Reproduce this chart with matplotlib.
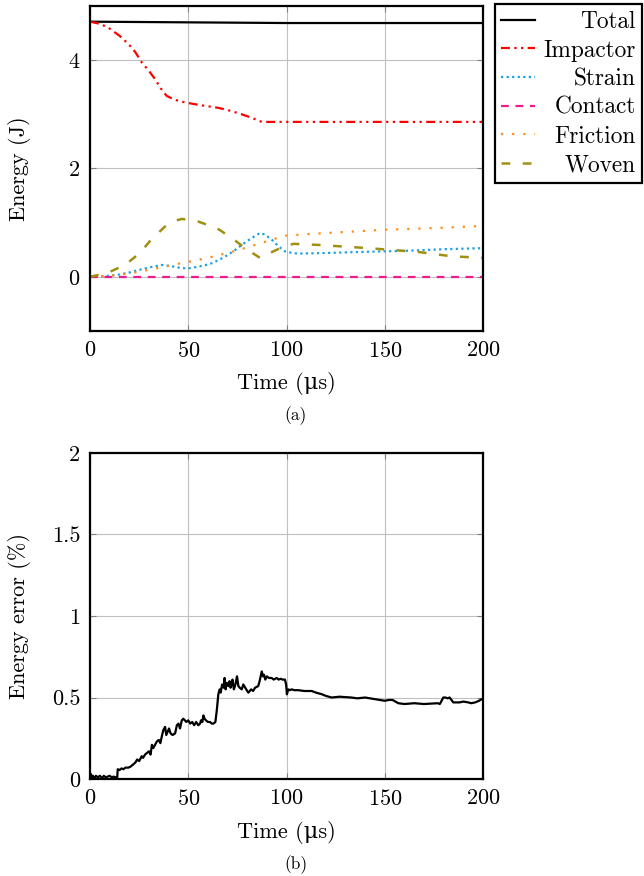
import matplotlib.pyplot as plt
import numpy as np

plt.rcParams['font.family'] = ['cmr10', 'DejaVu Serif']
plt.rcParams['mathtext.fontset'] = 'cm'
plt.rcParams['axes.formatter.use_mathtext'] = True
plt.rcParams['font.size'] = 16

# (a) energy components
t_total = [0, 20, 40, 60, 80, 100, 150, 200]
e_total = [4.71, 4.705, 4.70, 4.695, 4.69, 4.685, 4.685, 4.685]

t_imp = [0, 5, 9.3, 15, 19.5, 23, 26.3, 30, 33.1, 36, 39, 43, 48.3, 56, 65.3, 72, 77.2, 82, 87.4, 100, 150, 200]
e_imp = [4.71, 4.67, 4.60, 4.45, 4.30, 4.15, 3.96, 3.80, 3.65, 3.48, 3.34, 3.27, 3.22, 3.17, 3.12, 3.06, 3.00, 2.94, 2.86, 2.86, 2.86, 2.86]

t_strain = [0, 7, 14.4, 20, 26.3, 31, 36.5, 41, 46.7, 51, 55.1, 58, 61.9, 66, 70.4, 74, 77.2, 82, 86.5, 89, 92.4, 96, 99.2, 103, 106, 120, 138, 160, 180, 200]
e_strain = [0.0, 0.01, 0.04, 0.08, 0.14, 0.18, 0.22, 0.20, 0.16, 0.16, 0.19, 0.21, 0.25, 0.32, 0.41, 0.50, 0.59, 0.71, 0.81, 0.78, 0.69, 0.56, 0.47, 0.44, 0.43, 0.44, 0.46, 0.48, 0.51, 0.53]

t_fric = [0, 10, 21.2, 30, 38.2, 46, 53.4, 61, 68.7, 76, 84, 92, 99.2, 116, 150, 175, 200]
e_fric = [0.0, 0.02, 0.07, 0.13, 0.19, 0.25, 0.30, 0.36, 0.43, 0.50, 0.59, 0.68, 0.76, 0.80, 0.87, 0.90, 0.94]

t_contact = [0, 200]
e_contact = [0.0, 0.0]

t_woven = [0, 9.3, 17.8, 25.4, 31.4, 38.2, 42, 46.7, 55.1, 64.5, 72.1, 78.9, 86.5, 95, 103.5, 116, 141.6, 167, 184, 200]
e_woven = [0.0, 0.08, 0.22, 0.44, 0.70, 0.93, 1.02, 1.07, 1.02, 0.90, 0.72, 0.53, 0.35, 0.50, 0.61, 0.59, 0.53, 0.46, 0.38, 0.35]

# (b) energy error, hand-read with the visible jitter
t_err = [0, 0.5, 1, 1.5, 2, 3, 4, 5, 6, 7, 8, 9, 10, 11, 12, 13, 13.8, 14.1, 15, 16, 17, 18, 19.5, 20.5, 22, 23, 24, 25, 26.3,
         27, 28, 29, 30, 30.8, 31.5, 32.2, 33.1, 34, 35, 35.8, 36.5, 37.3, 38.2, 38.8, 39.5, 40.2, 41, 42, 43.3,
         44.2, 45, 45.8, 46.7, 47.5, 49, 50, 51, 52, 53, 54, 55.1, 56, 56.5, 57.2, 57.7, 58.3, 59, 60, 61, 62, 62.8,
         63.8, 64.5, 65.3, 66, 66.5, 67.2, 68, 68.5, 69, 69.6, 70.4, 71, 71.5, 72, 72.5, 73.2, 74, 74.8, 75.5, 76.2,
         77.2, 78, 79, 80, 80.6, 82, 83, 84, 85.6, 86.3, 87.4, 88, 88.5, 89.2, 90, 91, 92.4, 93.5, 95, 96, 97, 98,
         99.2, 99.8, 100.2, 100.9, 101.8, 102.6, 104, 106, 109, 112.8, 115, 118, 120, 123, 127, 133, 136, 140, 145,
         150, 152, 154, 156.9, 160, 165, 170, 177, 178, 178.5, 179.8, 181, 182, 183, 184.9, 188, 190, 192.5, 194,
         196, 198, 199.3, 200]
e_err = [0.0, 0.03, -0.01, 0.02, 0.0, 0.02, 0.01, 0.02, 0.005, 0.02, 0.01, 0.015, 0.02, 0.01, 0.015, 0.01, 0.005, 0.06, 0.055, 0.065, 0.06, 0.07, 0.07, 0.075, 0.09, 0.1, 0.12, 0.11, 0.14,
         0.13, 0.15, 0.16, 0.17, 0.15, 0.21, 0.19, 0.21, 0.23, 0.24, 0.22, 0.26, 0.30, 0.32, 0.27, 0.29, 0.31, 0.28, 0.27, 0.28,
         0.33, 0.34, 0.31, 0.36, 0.37, 0.35, 0.36, 0.34, 0.35, 0.33, 0.35, 0.33, 0.34, 0.36, 0.35, 0.39, 0.37, 0.36, 0.35, 0.35, 0.34, 0.34,
         0.35, 0.42, 0.52, 0.55, 0.53, 0.58, 0.56, 0.62, 0.55, 0.59, 0.57, 0.60, 0.56, 0.58, 0.61, 0.55, 0.58, 0.63, 0.57, 0.56,
         0.55, 0.58, 0.56, 0.54, 0.53, 0.55, 0.54, 0.56, 0.57, 0.60, 0.66, 0.63, 0.64, 0.61, 0.63, 0.62, 0.62, 0.61, 0.62, 0.61, 0.615, 0.61,
         0.61, 0.58, 0.52, 0.55, 0.545, 0.55, 0.545, 0.545, 0.54, 0.54, 0.53, 0.52, 0.51, 0.50, 0.505, 0.50, 0.495, 0.50, 0.49,
         0.48, 0.485, 0.485, 0.465, 0.46, 0.465, 0.46, 0.465, 0.46, 0.47, 0.50, 0.50, 0.495, 0.50, 0.47, 0.47, 0.475, 0.47, 0.465,
         0.47, 0.48, 0.49, 0.49]

fig = plt.figure(figsize=(6.44, 8.76), dpi=100)
ax1 = fig.add_axes([0.1398, 0.6221, 0.6102, 0.3711])
ax2 = fig.add_axes([0.1398, 0.1107, 0.6102, 0.3722])

ax1.plot(t_total, e_total, color='black', lw=1.6, label='Total')
ax1.plot(t_imp, e_imp, color='red', lw=1.6, dashes=(4, 2, 1, 2, 1, 2), label='Impactor')
ax1.plot(t_strain, e_strain, color='#1ba1e2', lw=1.6, dashes=(1, 1.5), label='Strain')
ax1.plot(t_contact, e_contact, color='#ec1c8c', lw=1.6, dashes=(3.5, 3), label='Contact')
ax1.plot(t_fric, e_fric, color='#ff8c1a', lw=1.6, dashes=(1, 4), label='Friction')
ax1.plot(t_woven, e_woven, color='#a09010', lw=1.8, dashes=(3.5, 5), label='Woven')

ax2.plot(t_err, e_err, color='black', lw=1.6)

for ax in (ax1, ax2):
    ax.set_xlim(0, 200)
    ax.set_xticks([0, 50, 100, 150, 200])
    ax.grid(True, color='#c0c0c0', lw=0.8)
    ax.tick_params(direction='in', top=True, right=True, length=4, width=0.8, color='#808080', pad=7)
    for s in ax.spines.values():
        s.set_linewidth(1.6)
    ax.set_xlabel('Time (μs)')

ax1.xaxis.set_label_coords(0.5, -0.126)
ax2.xaxis.set_label_coords(0.5, -0.129)

ax1.set_ylim(-1, 5)
ax1.set_yticks([0, 2, 4])
ax1.set_ylabel('Energy (J)')
ax1.yaxis.set_label_coords(-0.150, 0.5)

ax2.set_ylim(0, 2)
ax2.set_yticks([0, 0.5, 1, 1.5, 2])
ax2.set_yticklabels(['0', '0.5', '1', '1.5', '2'])
ax2.set_ylabel('Energy error (%)')
ax2.yaxis.set_label_coords(-0.150, 0.5)

leg = ax1.legend(loc='upper left', bbox_to_anchor=(1.03, 1.005), borderaxespad=0,
                 fancybox=False, edgecolor='black', framealpha=1, fontsize=16.8,
                 handlelength=1.45, labelspacing=0.28, borderpad=0.28, handletextpad=0.35)
leg.get_frame().set_linewidth(1.6)
renderer = fig.canvas.get_renderer()
widths = [t.get_window_extent(renderer).width for t in leg.get_texts()]
for t, w in zip(leg.get_texts(), widths):
    t.set_position((max(widths) - w, 0))

fig.text(0.4597, 1 - 416 / 876, '(a)', ha='center', va='center', fontsize=12.5)
fig.text(0.4597, 1 - 865 / 876, '(b)', ha='center', va='center', fontsize=12.5)

fig.savefig('out.png', dpi=100)
